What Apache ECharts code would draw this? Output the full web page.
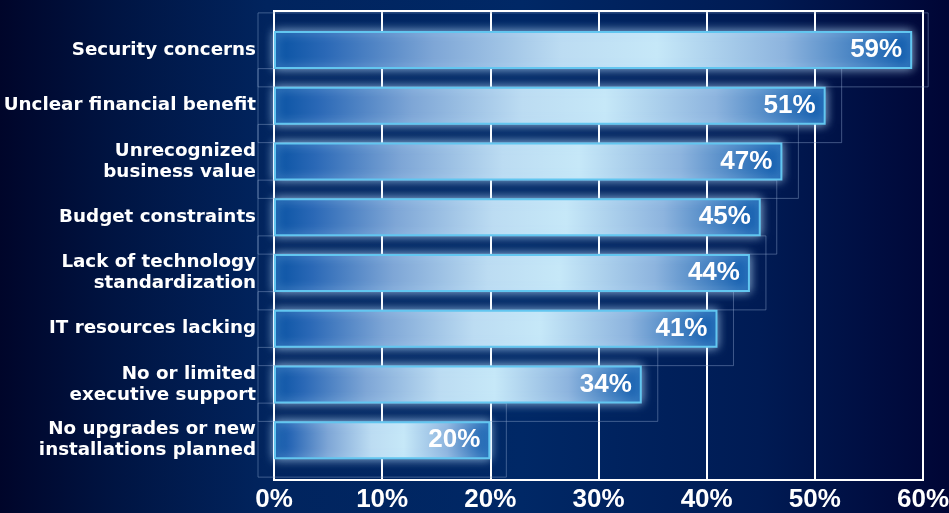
<!DOCTYPE html>
<html>
<head>
<meta charset="utf-8">
<script src="https://cdn.jsdelivr.net/npm/echarts@6/dist/echarts.min.js"></script>
<style>
html,body{margin:0;padding:0;}
#chart{width:949px;height:513px;}
</style>
</head>
<body>
<div id="chart"></div>
<script>
var categories = [
  "Security concerns",
  "Unclear financial benefit",
  "Unrecognized\nbusiness value",
  "Budget constraints",
  "Lack of technology\nstandardization",
  "IT resources lacking",
  "No or limited\nexecutive support",
  "No upgrades or new\ninstallations planned"
];
var values = [59, 51, 47, 45, 44, 41, 34, 20];
var axisMin = 0, axisMax = 60, axisStep = 10;

var chart = echarts.init(document.getElementById('chart'), null, {renderer: 'canvas'});

var barFill = new echarts.graphic.LinearGradient(0, 0, 1, 0, [
  {offset: 0, color: '#0852a3'},
  {offset: 0.08, color: '#2a68b6'},
  {offset: 0.25, color: '#7ea6d6'},
  {offset: 0.45, color: '#bcdcf2'},
  {offset: 0.6, color: '#c6e8f8'},
  {offset: 0.8, color: '#8db4de'},
  {offset: 1, color: '#0d5aac'}
]);

var option = {
  backgroundColor: new echarts.graphic.LinearGradient(0, 0, 1, 0, [
    {offset: 0, color: '#00052a'},
    {offset: 0.12, color: '#001442'},
    {offset: 0.28, color: '#01245e'},
    {offset: 0.55, color: '#002866'},
    {offset: 0.8, color: '#001b54'},
    {offset: 1, color: '#000535'}
  ]),
  animation: false,
  grid: [
    {left: 274, right: 26, top: 11, bottom: 33, show: true, borderColor: '#ffffff', borderWidth: 2,
     backgroundColor: 'transparent', outerBoundsMode: 'none', containLabel: false},
    {left: 274, right: 26, top: 22, bottom: 45, outerBoundsMode: 'none', containLabel: false}
  ],
  xAxis: [
    {
      gridIndex: 0, type: 'value', min: axisMin, max: axisMax, interval: axisStep,
      axisLine: {show: true, lineStyle: {color: '#ffffff', width: 2}},
      axisTick: {show: false},
      splitLine: {show: true, lineStyle: {color: '#ffffff', width: 2}},
      axisLabel: {
        formatter: '{value}%', color: '#ffffff', fontFamily: 'Liberation Sans',
        fontWeight: 'bold', fontSize: 26, margin: 7, hideOverlap: false
      }
    },
    {
      gridIndex: 1, type: 'value', min: axisMin, max: axisMax, show: false
    }
  ],
  yAxis: [
    {gridIndex: 0, type: 'value', show: false},
    {
      gridIndex: 1, type: 'category', data: categories, inverse: true,
      axisLine: {show: false}, axisTick: {show: false}, splitLine: {show: false},
      axisLabel: {
        color: '#ffffff', fontFamily: 'DejaVu Sans', fontWeight: 'bold',
        fontSize: 18.3, lineHeight: 21, margin: 18, align: 'right'
      }
    }
  ],
  series: [
    {
      type: 'custom', xAxisIndex: 1, yAxisIndex: 1, z: 1, silent: true,
      data: values.map(function (v, i) { return [v, i]; }),
      renderItem: function (params, api) {
        var end = api.coord([api.value(0), api.value(1)]);
        var start = api.coord([0, api.value(1)]);
        return {
          type: 'rect',
          shape: {x: start[0] - 16, y: end[1] - 37, width: end[0] - start[0] + 32, height: 74},
          style: {fill: null, stroke: 'rgba(140,165,205,0.45)', lineWidth: 1}
        };
      }
    },
    {
      type: 'bar', xAxisIndex: 1, yAxisIndex: 1, z: 3,
      data: values, barWidth: 38,
      itemStyle: {
        color: barFill, borderColor: '#62c6f0', borderWidth: 2,
        shadowBlur: 10, shadowColor: 'rgba(190,225,255,0.75)'
      },
      label: {
        show: true, position: 'insideRight', distance: 10,
        formatter: '{c}%', color: '#ffffff', fontFamily: 'Liberation Sans',
        fontWeight: 'bold', fontSize: 26
      }
    }
  ]
};
chart.setOption(option);
</script>
</body>
</html>
